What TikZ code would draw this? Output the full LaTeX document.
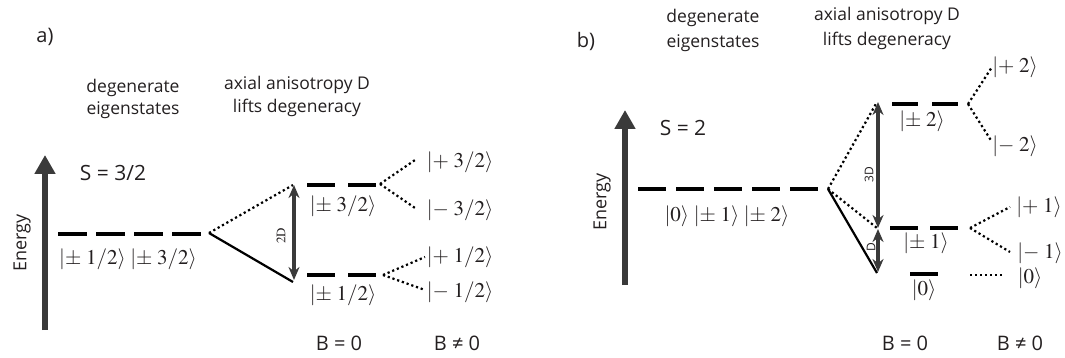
\documentclass[tikz,border=0pt]{standalone}
\usepackage{mathptmx}
\usepackage[no-math]{fontspec}
\newfontfamily\labfont{Open Sans}
\usetikzlibrary{arrows.meta}
\definecolor{arrgray}{HTML}{3A3A3A}
\definecolor{txtblack}{HTML}{231F20}

\begin{document}
\begin{tikzpicture}[
  x=1pt,y=-1pt,
  lab/.style={font=\labfont\fontsize{17.5}{23}\selectfont,text=txtblack,inner sep=0pt},
  bigl/.style={font=\labfont\fontsize{20}{24}\selectfont,text=txtblack,inner sep=0pt},
  spinl/.style={font=\labfont\fontsize{21}{24}\selectfont,text=txtblack,inner sep=0pt},
  axisl/.style={font=\labfont\fontsize{18}{22}\selectfont,text=txtblack,inner sep=0pt,rotate=90},
  gapl/.style={font=\labfont\fontsize{12}{14}\selectfont,text=txtblack,inner sep=0pt,rotate=90},
  ket/.style={font=\fontsize{21}{24}\selectfont,text=txtblack,inner sep=0pt},
  level/.style={line width=3.2pt,black},
  split/.style={line width=2.2pt,black,dash pattern=on 2.2pt off 2.8pt},
  solidsplit/.style={line width=2.2pt,black},
  energy/.style={line width=6pt,arrgray,-{Triangle[width=20pt,length=19pt]}},
  gap/.style={line width=4pt,arrgray,{Stealth[width=11pt,length=13pt]}-{Stealth[width=11pt,length=13pt]}}
]
\useasboundingbox (0,0) rectangle (1065,358);

% ---------- panel a
\node[bigl] (alabel) at (45,37) {a)};
\node[lab] (adegA) at (133,88) {degenerate};
\node[lab] (adegB) at (133,110) {eigenstates};
\node[lab] (aaxialA) at (297,85) {axial anisotropy D};
\node[lab] (aaxialB) at (297,108) {lifts degeneracy};
\coordinate (aEbot) at (45,330);
\coordinate (aEtop) at (45,155);
\draw[energy] (aEbot) -- (aEtop);
\node[axisl] (aenergy) at (22,243) {Energy};
\node[spinl] (aspin) at (113,173) {S = 3/2};

\draw[level,dash pattern=on 29pt off 9pt] (58,234) -- (201,234);
\node[ket] (adegket) at (128,259) {$|{\pm}\;1/2\rangle\;|{\pm}\;3/2\rangle$};

\coordinate (asplit) at (209,233);
\coordinate (atop) at (293,185);
\coordinate (abot) at (293,282);
\draw[split] (asplit) -- (atop);
\draw[solidsplit] (asplit) -- (abot);
\draw[gap] (294,185) -- (294,280);
\node[gapl,font=\fontsize{13}{14}\selectfont] (atwoD) at (281,236) {$\mathrm{2D}$};

\draw[level,dash pattern=on 28pt off 13pt] (307,185) -- (376,185);
\draw[level,dash pattern=on 28pt off 13pt] (307,275) -- (376,275);
\node[ket] (athree) at (343,206) {$|{\pm}\;3/2\rangle$};
\node[ket] (aone) at (343,295) {$|{\pm}\;1/2\rangle$};

\coordinate (aforkA) at (380,184);
\coordinate (aforkB) at (383,275);
\draw[split] (aforkA) -- (415,160);
\draw[split] (aforkA) -- (415,208);
\draw[split] (aforkB) -- (425,257);
\draw[split] (aforkB) -- (425,290);
\node[ket] (apthree) at (460,162) {$|{+}\;3/2\rangle$};
\node[ket] (amthree) at (460,210) {$|{-}\;3/2\rangle$};
\node[ket] (apone) at (460,257) {$|{+}\;1/2\rangle$};
\node[ket] (amone) at (460,292) {$|{-}\;1/2\rangle$};

\node[bigl] (abzero) at (339,343) {B = 0};
\node[bigl] (abfield) at (457,343) {B ≠ 0};

% ---------- panel b
\node[bigl] (blabel) at (586,41) {b)};
\node[lab] (bdegA) at (713,18) {degenerate};
\node[lab] (bdegB) at (713,43) {eigenstates};
\node[lab] (baxialA) at (887,16) {axial anisotropy D};
\node[lab] (baxialB) at (887,41) {lifts degeneracy};
\coordinate (bEbot) at (625,285);
\coordinate (bEtop) at (625,110);
\draw[energy] (bEbot) -- (bEtop);
\node[axisl] (benergy) at (602,202) {Energy};
\node[spinl] (bspin) at (683,128) {S = 2};

\draw[level,dash pattern=on 28pt off 10pt] (638,189) -- (818,189);
\node[ket] (bdegket) at (727,216) {$|0\rangle\;|{\pm}\;1\rangle\;|{\pm}\;2\rangle$};

\coordinate (bsplit) at (828,189);
\coordinate (btop) at (877,102);
\coordinate (bmid) at (877,228);
\coordinate (bbot) at (877,273);
\draw[split] (bsplit) -- (btop);
\draw[split] (bsplit) -- (bmid);
\draw[solidsplit] (bsplit) -- (bbot);
\draw[gap] (878,102) -- (878,228);
\draw[gap] (878,229) -- (878,272);
\node[gapl] (bthreeD) at (869,175) {3D};
\node[gapl] (boneD) at (871,247) {D};

\draw[level,dash pattern=on 26pt off 14pt] (892,104) -- (958,104);
\draw[level,dash pattern=on 28pt off 12pt] (890,228) -- (958,228);
\draw[level] (910,274) -- (938,274);
\node[ket] (btwo) at (922,121) {$|{\pm}\;2\rangle$};
\node[ket] (bone) at (926,243) {$|{\pm}\;1\rangle$};
\node[ket] (bzero) at (924,290) {$|0\rangle$};

\coordinate (bforkA) at (968,104);
\coordinate (bforkB) at (970,228);
\coordinate (bforkC) at (970,275);
\draw[split] (bforkA) -- (992,67);
\draw[split] (bforkA) -- (992,142);
\draw[split] (bforkB) -- (1010,207);
\draw[split] (bforkB) -- (1010,252);
\draw[split] (bforkC) -- (1002,275);
\node[ket] (bptwo) at (1015,67) {$|{+}\;2\rangle$};
\node[ket] (bmtwo) at (1015,146) {$|{-}\;2\rangle$};
\node[ket] (bpone) at (1039,207) {$|{+}\;1\rangle$};
\node[ket] (bmone) at (1040,253) {$|{-}\;1\rangle$};
\node[ket] (bzerob) at (1030,278) {$|0\rangle$};

\node[bigl] (bbzero) at (905,343) {B = 0};
\node[bigl] (bbfield) at (1020,343) {B ≠ 0};
\end{tikzpicture}
\end{document}
